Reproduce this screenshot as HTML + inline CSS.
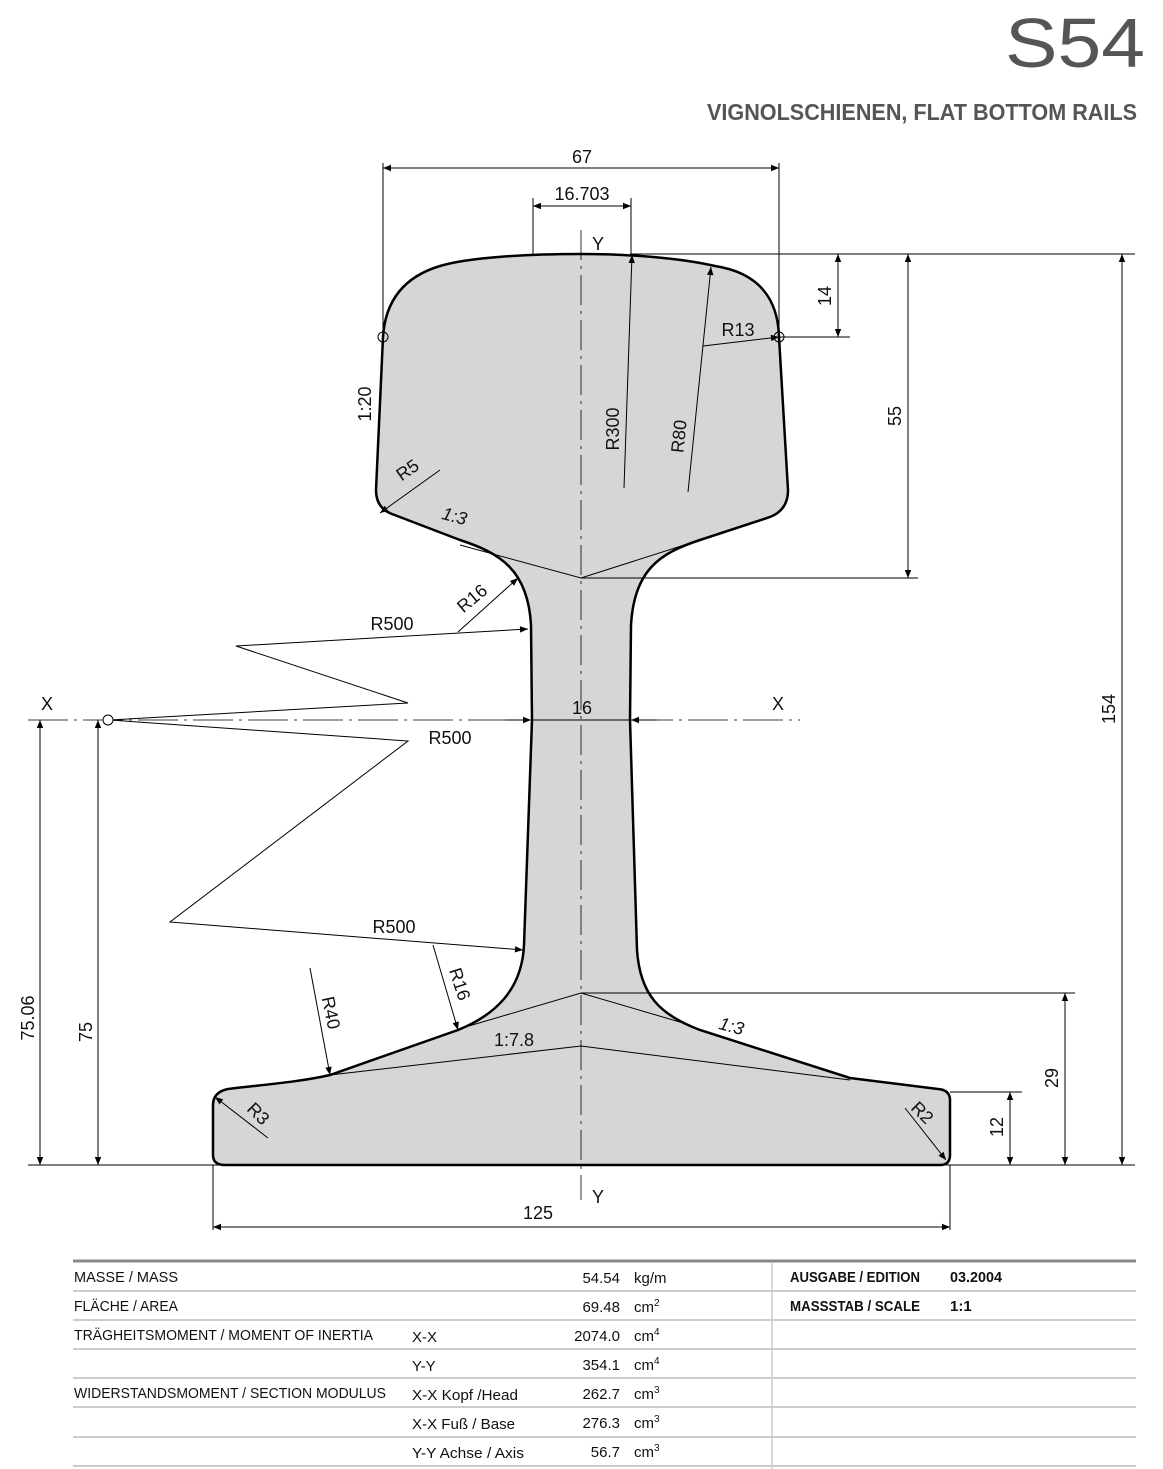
<!DOCTYPE html>
<html><head><meta charset="utf-8"><style>
html,body{margin:0;padding:0;background:#fff}
svg{display:block}
text{font-family:"Liberation Sans Narrow","Liberation Sans",sans-serif;fill:#111}
</style></head><body>
<svg width="1163" height="1469" viewBox="0 0 1163 1469" xmlns="http://www.w3.org/2000/svg">
<defs>
<marker id="a" viewBox="0 0 10 10" refX="10" refY="5" markerWidth="14" markerHeight="8" orient="auto-start-reverse" markerUnits="userSpaceOnUse"><path d="M0,1 L10,5 L0,9 Z" fill="#000"/></marker>
</defs>
<text x="1145" y="67" font-size="70" text-anchor="end" textLength="140" lengthAdjust="spacingAndGlyphs" style="fill:#555;font-family:'Liberation Sans',sans-serif">S54</text>
<text x="1137" y="120" font-size="23" font-weight="bold" text-anchor="end" textLength="430" lengthAdjust="spacingAndGlyphs" style="fill:#555">VIGNOLSCHIENEN, FLAT BOTTOM RAILS</text>

<path d="M581,254 C530,254 470,257 440,266 C400,278 385,305 383,337 L376,490 Q376,508 392,514 L460,540 C500,553 528,570 531,625 L532,720 L524,945 C522,990 495,1015 458,1030 L330,1075 C300,1082 260,1085 228,1089 Q213,1092 213,1105 L213,1155 Q213,1165 225,1165 L940,1165 Q950,1165 950,1155 L950,1100 Q950,1090 938,1089 L850,1078 L700,1030 C660,1015 640,995 637,950 L630,720 L631,625 C634,570 660,553 700,540 L770,517 Q788,510 788,490 L779,337 C778,300 760,273 715,266 C680,258 630,254 581,254 Z" fill="#d4d6d8" stroke="#000" stroke-width="2.5"/>
<g stroke="#000" stroke-width="1" fill="none">
<path d="M460,545 L581,578 L700,540"/>
<path d="M462,1028 L581,993 L690,1025"/>
<path d="M330,1075 L581,1046 L850,1080"/>
<line x1="581" y1="230" x2="581" y2="1200" stroke-dasharray="30,6,3,6" stroke-width="0.8"/>
<line x1="28" y1="720" x2="800" y2="720" stroke-dasharray="40,6,3,6" stroke-width="0.8"/>
<line x1="383" y1="163" x2="383" y2="337"/><line x1="779" y1="163" x2="779" y2="337"/>
<line x1="533" y1="198" x2="533" y2="254"/><line x1="631" y1="198" x2="631" y2="254"/>
<line x1="630" y1="254" x2="1135" y2="254"/>
<line x1="779" y1="337" x2="850" y2="337"/>
<line x1="581" y1="578" x2="918" y2="578"/>
<line x1="581" y1="993" x2="1075" y2="993"/>
<line x1="950" y1="1092" x2="1022" y2="1092"/>
<line x1="28" y1="1165" x2="1135" y2="1165"/>
<line x1="213" y1="1165" x2="213" y2="1230"/><line x1="950" y1="1165" x2="950" y2="1230"/>
<line x1="383" y1="168" x2="779" y2="168" marker-start="url(#a)" marker-end="url(#a)"/>
<line x1="533" y1="206" x2="631" y2="206" marker-start="url(#a)" marker-end="url(#a)"/>
<line x1="838" y1="254" x2="838" y2="337" marker-start="url(#a)" marker-end="url(#a)"/>
<line x1="908" y1="254" x2="908" y2="578" marker-start="url(#a)" marker-end="url(#a)"/>
<line x1="1122" y1="254" x2="1122" y2="1165" marker-start="url(#a)" marker-end="url(#a)"/>
<line x1="1065" y1="993" x2="1065" y2="1165" marker-start="url(#a)" marker-end="url(#a)"/>
<line x1="1010" y1="1092" x2="1010" y2="1165" marker-start="url(#a)" marker-end="url(#a)"/>
<line x1="40" y1="720" x2="40" y2="1165" marker-start="url(#a)" marker-end="url(#a)"/>
<line x1="98" y1="720" x2="98" y2="1165" marker-start="url(#a)" marker-end="url(#a)"/>
<line x1="213" y1="1227" x2="950" y2="1227" marker-start="url(#a)" marker-end="url(#a)"/>
<line x1="505" y1="720" x2="531" y2="720" marker-end="url(#a)"/>
<line x1="657" y1="720" x2="631" y2="720" marker-end="url(#a)"/>
<line x1="531" y1="720" x2="631" y2="720"/>
<path d="M110,720 L408,703 L236,646 L528,629" marker-end="url(#a)"/>
<path d="M110,720 L408,741 L170,922 L523,950" marker-end="url(#a)"/>
<circle cx="108" cy="720" r="5" fill="#fff"/>
<circle cx="383" cy="337" r="5"/><circle cx="779" cy="337" r="5"/>
<line x1="458" y1="632" x2="518" y2="578" marker-end="url(#a)"/>
<line x1="433" y1="945" x2="458" y2="1030" marker-end="url(#a)"/>
<line x1="310" y1="968" x2="330" y2="1075" marker-end="url(#a)"/>
<line x1="268" y1="1138" x2="215" y2="1097" marker-end="url(#a)"/>
<line x1="905" y1="1108" x2="946" y2="1160" marker-end="url(#a)"/>
<line x1="440" y1="470" x2="380" y2="513" marker-end="url(#a)"/>
<line x1="703" y1="346" x2="779" y2="337" marker-end="url(#a)"/>
<line x1="624" y1="488" x2="632" y2="255" marker-end="url(#a)"/>
<line x1="688" y1="492" x2="711" y2="267" marker-end="url(#a)"/>
</g>
<g font-size="18">
<text x="582" y="163" text-anchor="middle">67</text>
<text x="582" y="200" text-anchor="middle">16.703</text>
<text x="598" y="250" text-anchor="middle">Y</text>
<text x="598" y="1203" text-anchor="middle">Y</text>
<text x="47" y="710" text-anchor="middle">X</text>
<text x="778" y="710" text-anchor="middle">X</text>
<text x="582" y="714" text-anchor="middle">16</text>
<text x="538" y="1219" text-anchor="middle">125</text>
<text x="392" y="630" text-anchor="middle">R500</text>
<text x="450" y="744" text-anchor="middle">R500</text>
<text x="394" y="933" text-anchor="middle">R500</text>
<text x="738" y="336" text-anchor="middle">R13</text>
<text x="514" y="1046" text-anchor="middle">1:7.8</text>
<text transform="translate(831,296) rotate(-90)" text-anchor="middle">14</text>
<text transform="translate(901,416) rotate(-90)" text-anchor="middle">55</text>
<text transform="translate(1115,709) rotate(-90)" text-anchor="middle">154</text>
<text transform="translate(1058,1078) rotate(-90)" text-anchor="middle">29</text>
<text transform="translate(1003,1127) rotate(-90)" text-anchor="middle">12</text>
<text transform="translate(34,1018) rotate(-90)" text-anchor="middle">75.06</text>
<text transform="translate(92,1032) rotate(-90)" text-anchor="middle">75</text>
<text transform="translate(371,404) rotate(-90)" text-anchor="middle">1:20</text>
<text transform="translate(619,429) rotate(-90)" text-anchor="middle">R300</text>
<text transform="translate(685,437) rotate(-84)" text-anchor="middle">R80</text>
<text transform="translate(411,475) rotate(-35)" text-anchor="middle">R5</text>
<text transform="translate(453,522) rotate(15)" text-anchor="middle" font-style="italic">1:3</text>
<text transform="translate(730,1032) rotate(15)" text-anchor="middle" font-style="italic">1:3</text>
<text transform="translate(476,603) rotate(-40)" text-anchor="middle">R16</text>
<text transform="translate(454,986) rotate(72)" text-anchor="middle">R16</text>
<text transform="translate(325,1014) rotate(78)" text-anchor="middle">R40</text>
<text transform="translate(254,1118) rotate(45)" text-anchor="middle">R3</text>
<text transform="translate(918,1117) rotate(45)" text-anchor="middle">R2</text>
</g>

<line x1="73" y1="1261" x2="1136" y2="1261" stroke="#888" stroke-width="3"/>
<g stroke="#ccc" stroke-width="2">
<line x1="73" y1="1291" x2="1136" y2="1291"/><line x1="73" y1="1320" x2="1136" y2="1320"/>
<line x1="73" y1="1349" x2="1136" y2="1349"/><line x1="73" y1="1378" x2="1136" y2="1378"/>
<line x1="73" y1="1407" x2="1136" y2="1407"/><line x1="73" y1="1437" x2="1136" y2="1437"/>
<line x1="73" y1="1466" x2="1136" y2="1466"/>
</g>
<line x1="772" y1="1263" x2="772" y2="1469" stroke="#ccc" stroke-width="1.5"/>
<g font-size="15">
<text x="74" y="1282" textLength="104" lengthAdjust="spacingAndGlyphs">MASSE / MASS</text>
<text x="74" y="1311" textLength="104" lengthAdjust="spacingAndGlyphs">FLÄCHE / AREA</text>
<text x="74" y="1340" textLength="299" lengthAdjust="spacingAndGlyphs">TRÄGHEITSMOMENT / MOMENT OF INERTIA</text>
<text x="74" y="1398" textLength="312" lengthAdjust="spacingAndGlyphs">WIDERSTANDSMOMENT / SECTION MODULUS</text>
<text x="412" y="1342">X-X</text>
<text x="412" y="1371">Y-Y</text>
<text x="412" y="1400" textLength="106" lengthAdjust="spacingAndGlyphs">X-X Kopf /Head</text>
<text x="412" y="1429" textLength="103" lengthAdjust="spacingAndGlyphs">X-X Fuß / Base</text>
<text x="412" y="1458" textLength="112" lengthAdjust="spacingAndGlyphs">Y-Y Achse / Axis</text>
<g text-anchor="end">
<text x="620" y="1283">54.54</text><text x="620" y="1312">69.48</text>
<text x="620" y="1341">2074.0</text><text x="620" y="1370">354.1</text>
<text x="620" y="1399">262.7</text><text x="620" y="1428">276.3</text>
<text x="620" y="1457">56.7</text>
</g>
<text x="634" y="1283">kg/m</text>
<text x="634" y="1312">cm<tspan font-size="10" dy="-6">2</tspan></text>
<text x="634" y="1341">cm<tspan font-size="10" dy="-6">4</tspan></text>
<text x="634" y="1370">cm<tspan font-size="10" dy="-6">4</tspan></text>
<text x="634" y="1399">cm<tspan font-size="10" dy="-6">3</tspan></text>
<text x="634" y="1428">cm<tspan font-size="10" dy="-6">3</tspan></text>
<text x="634" y="1457">cm<tspan font-size="10" dy="-6">3</tspan></text>
<text x="790" y="1282" font-weight="bold" textLength="130" lengthAdjust="spacingAndGlyphs">AUSGABE / EDITION</text>
<text x="950" y="1282" font-weight="bold" textLength="52" lengthAdjust="spacingAndGlyphs">03.2004</text>
<text x="790" y="1311" font-weight="bold" textLength="130" lengthAdjust="spacingAndGlyphs">MASSSTAB / SCALE</text>
<text x="950" y="1311" font-weight="bold">1:1</text>
</g>
</svg>
</body></html>
